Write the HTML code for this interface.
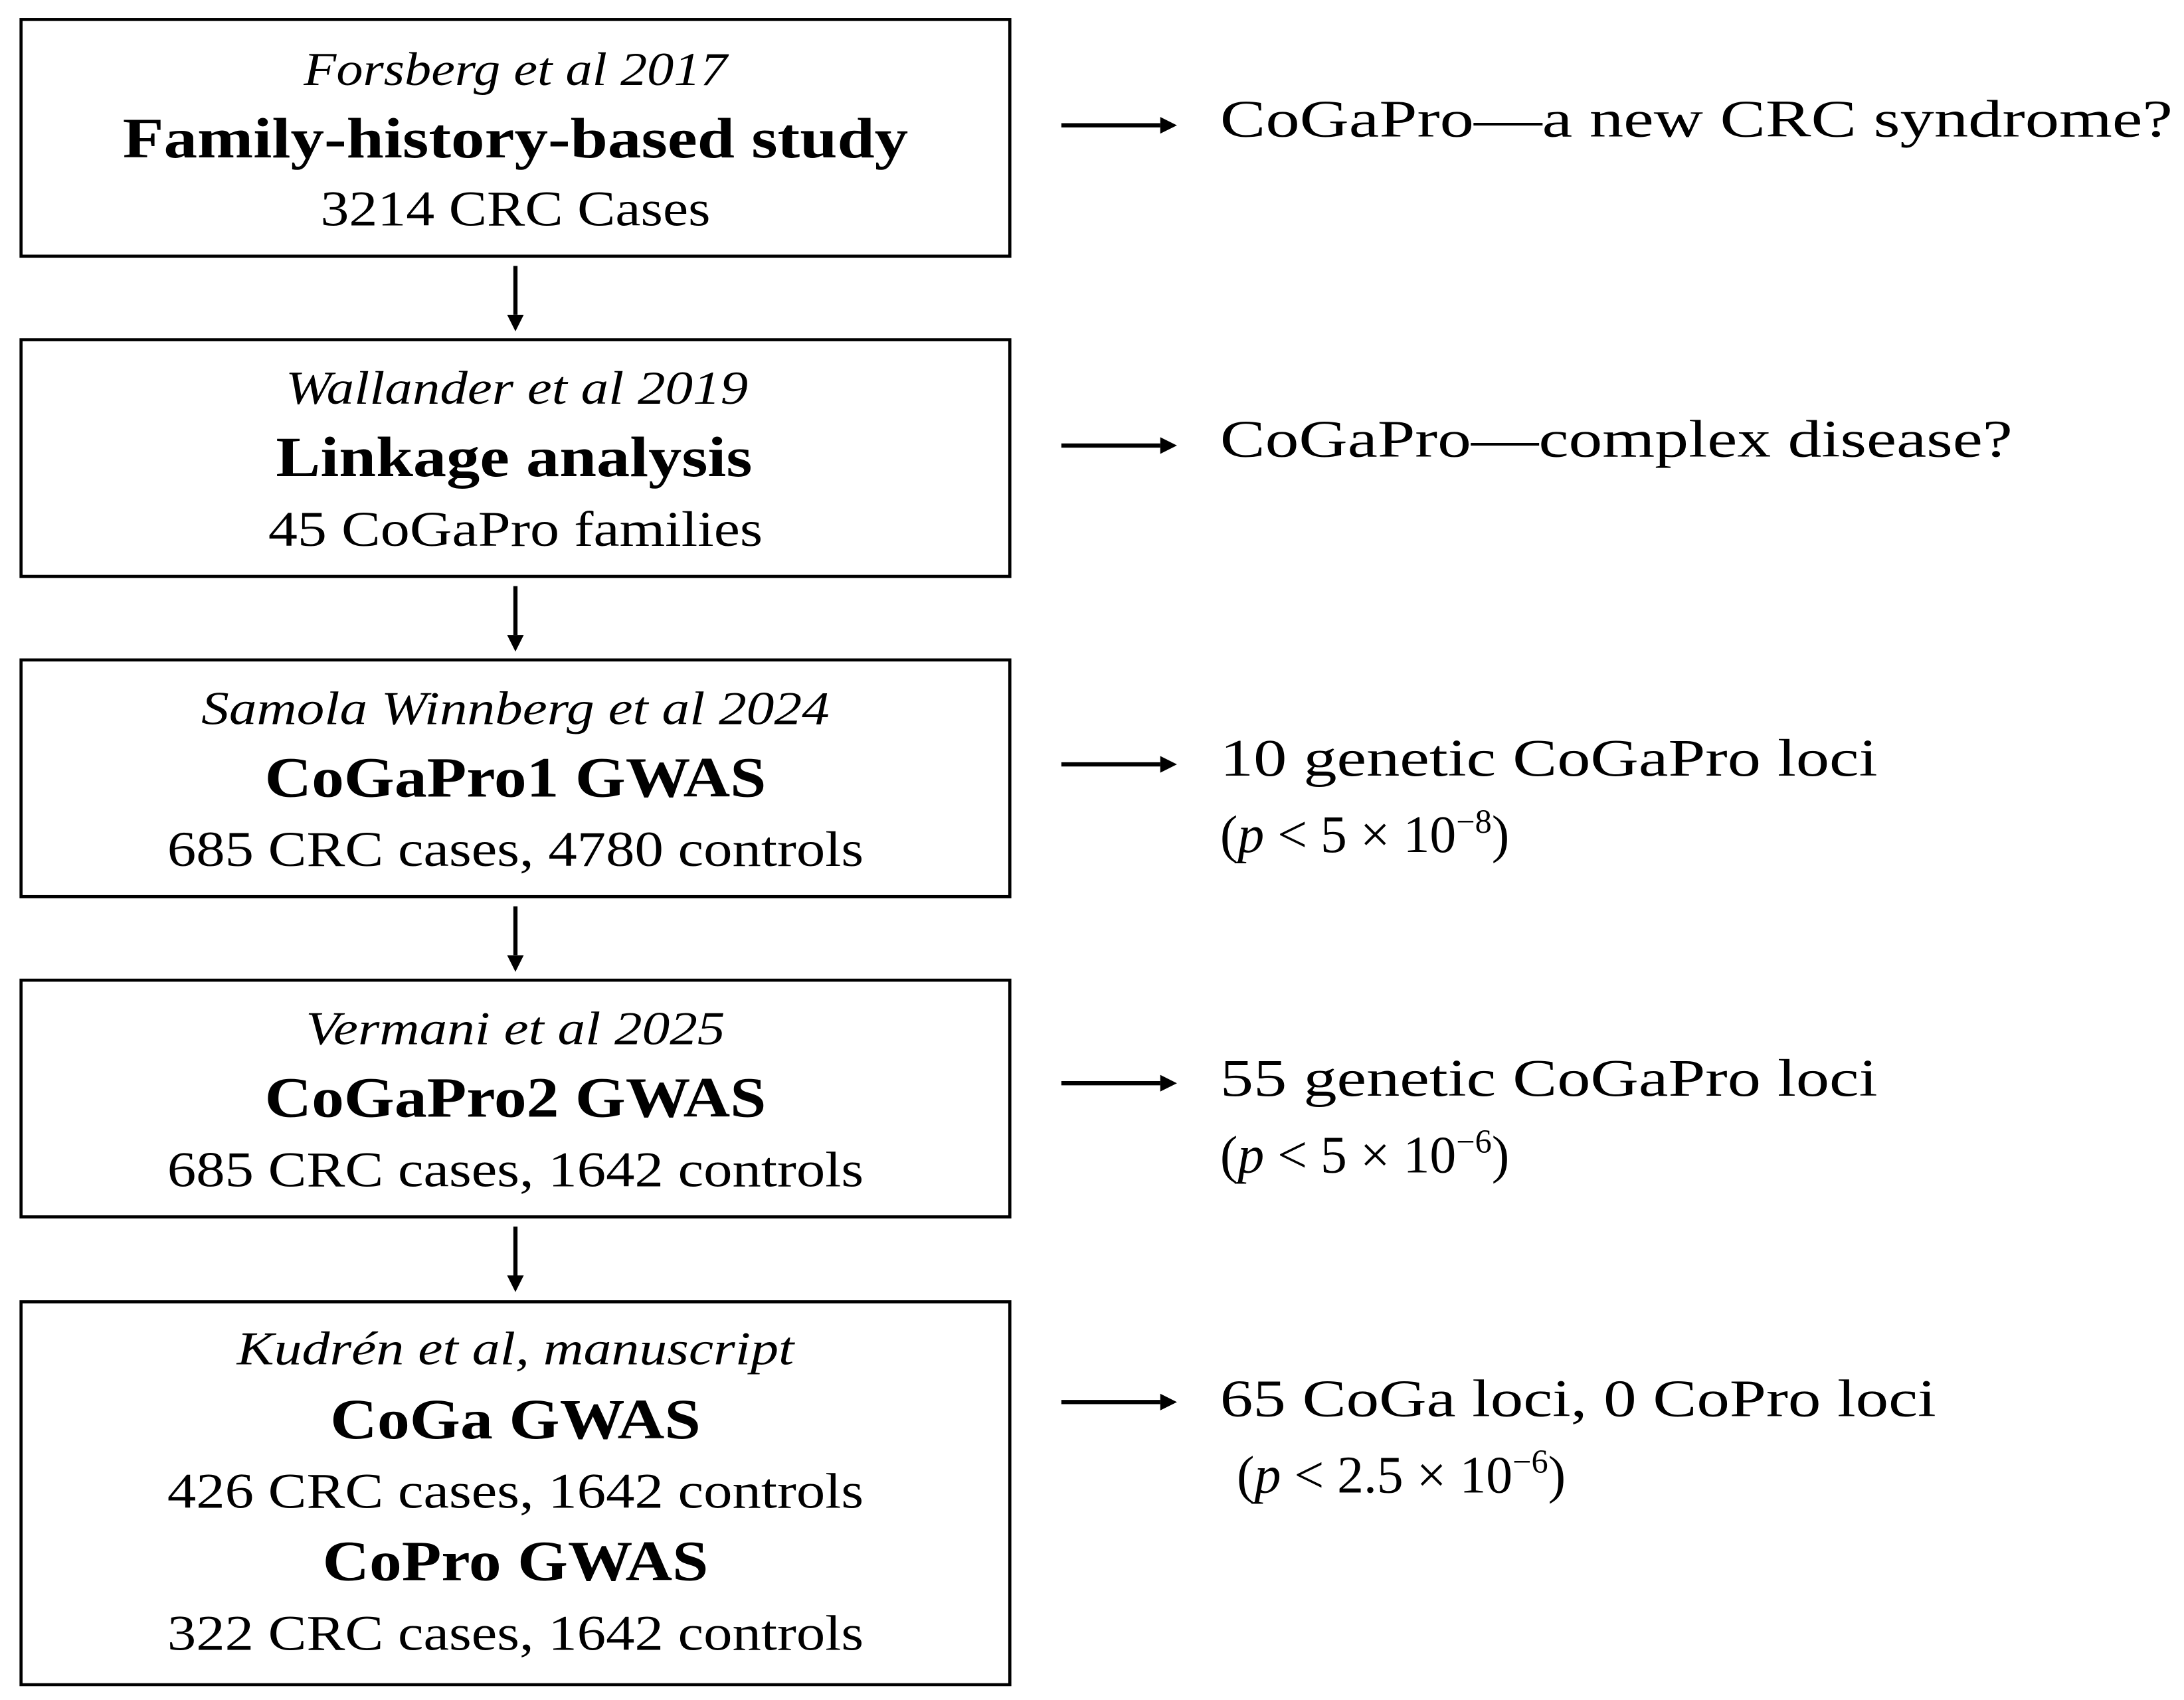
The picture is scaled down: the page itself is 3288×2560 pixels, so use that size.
<!DOCTYPE html>
<html><head><meta charset="utf-8"><style>
html,body{margin:0;padding:0;background:#fff;}
svg{display:block;}
text{font-family:"Liberation Serif",serif;fill:#000;}
.i{font-style:italic;font-size:34px;}
.b{font-weight:bold;font-size:41px;}
.n{font-size:36px;}
.r{font-size:38px;}
</style></head><body>
<svg width="3288" height="2560" viewBox="0 0 1568 1221" xmlns="http://www.w3.org/2000/svg">
<defs>
<marker id="ah" markerWidth="4" markerHeight="4" refX="0" refY="2" orient="auto" markerUnits="strokeWidth">
<path d="M0,0 L4,2 L0,4 Z" fill="#000"/>
</marker>
</defs>
<g fill="none" stroke="#000" stroke-width="2.2">
<rect x="15" y="14" width="710" height="170"/>
<rect x="15" y="244" width="710" height="170"/>
<rect x="15" y="474" width="710" height="170"/>
<rect x="15" y="704" width="710" height="170"/>
<rect x="15" y="935" width="710" height="275"/>
</g>
<g stroke="#000" stroke-width="3">
<line x1="370" y1="191" x2="370" y2="226" marker-end="url(#ah)"/>
<line x1="370" y1="421" x2="370" y2="456" marker-end="url(#ah)"/>
<line x1="370" y1="651" x2="370" y2="686" marker-end="url(#ah)"/>
<line x1="370" y1="881" x2="370" y2="916" marker-end="url(#ah)"/>
<line x1="762" y1="90" x2="833" y2="90" marker-end="url(#ah)"/>
<line x1="762" y1="320" x2="833" y2="320" marker-end="url(#ah)"/>
<line x1="762" y1="549" x2="833" y2="549" marker-end="url(#ah)"/>
<line x1="762" y1="778" x2="833" y2="778" marker-end="url(#ah)"/>
<line x1="762" y1="1007" x2="833" y2="1007" marker-end="url(#ah)"/>
</g>
<g text-anchor="middle">
<text class="i" x="370" y="61" textLength="304" lengthAdjust="spacingAndGlyphs">Forsberg et al 2017</text>
<text class="b" x="370" y="113" textLength="564" lengthAdjust="spacingAndGlyphs">Family-history-based study</text>
<text class="n" x="370" y="162" textLength="280" lengthAdjust="spacingAndGlyphs">3214 CRC Cases</text>

<text class="i" x="371" y="290" textLength="332" lengthAdjust="spacingAndGlyphs">Wallander et al 2019</text>
<text class="b" x="369" y="342" textLength="342" lengthAdjust="spacingAndGlyphs">Linkage analysis</text>
<text class="n" x="370" y="392" textLength="355" lengthAdjust="spacingAndGlyphs">45 CoGaPro families</text>

<text class="i" x="370" y="520" textLength="451" lengthAdjust="spacingAndGlyphs">Samola Winnberg et al 2024</text>
<text class="b" x="370" y="572" textLength="360" lengthAdjust="spacingAndGlyphs">CoGaPro1 GWAS</text>
<text class="n" x="370" y="622" textLength="500" lengthAdjust="spacingAndGlyphs">685 CRC cases, 4780 controls</text>

<text class="i" x="370" y="750" textLength="301" lengthAdjust="spacingAndGlyphs">Vermani et al 2025</text>
<text class="b" x="370" y="802" textLength="360" lengthAdjust="spacingAndGlyphs">CoGaPro2 GWAS</text>
<text class="n" x="370" y="852" textLength="500" lengthAdjust="spacingAndGlyphs">685 CRC cases, 1642 controls</text>

<text class="i" x="370" y="980" textLength="400" lengthAdjust="spacingAndGlyphs">Kudrén et al, manuscript</text>
<text class="b" x="370" y="1033" textLength="266" lengthAdjust="spacingAndGlyphs">CoGa GWAS</text>
<text class="n" x="370" y="1083" textLength="500" lengthAdjust="spacingAndGlyphs">426 CRC cases, 1642 controls</text>
<text class="b" x="370" y="1135" textLength="277" lengthAdjust="spacingAndGlyphs">CoPro GWAS</text>
<text class="n" x="370" y="1185" textLength="500" lengthAdjust="spacingAndGlyphs">322 CRC cases, 1642 controls</text>
</g>
<g>
<text class="r" x="876" y="98" textLength="684" lengthAdjust="spacingAndGlyphs">CoGaPro—a new CRC syndrome?</text>
<text class="r" x="876" y="328" textLength="569" lengthAdjust="spacingAndGlyphs">CoGaPro—complex disease?</text>
<text class="r" x="876" y="557" textLength="472" lengthAdjust="spacingAndGlyphs">10 genetic CoGaPro loci</text>
<text class="r" x="876" y="612">(<tspan font-style="italic">p</tspan> &lt; 5 × 10<tspan font-size="24" dy="-14">−8</tspan><tspan dy="14">)</tspan></text>
<text class="r" x="876" y="787" textLength="472" lengthAdjust="spacingAndGlyphs">55 genetic CoGaPro loci</text>
<text class="r" x="876" y="842">(<tspan font-style="italic">p</tspan> &lt; 5 × 10<tspan font-size="24" dy="-14">−6</tspan><tspan dy="14">)</tspan></text>
<text class="r" x="876" y="1017" textLength="514" lengthAdjust="spacingAndGlyphs">65 CoGa loci, 0 CoPro loci</text>
<text class="r" x="888" y="1072">(<tspan font-style="italic">p</tspan> &lt; 2.5 × 10<tspan font-size="24" dy="-14">−6</tspan><tspan dy="14">)</tspan></text>
</g>
</svg>
</body></html>
